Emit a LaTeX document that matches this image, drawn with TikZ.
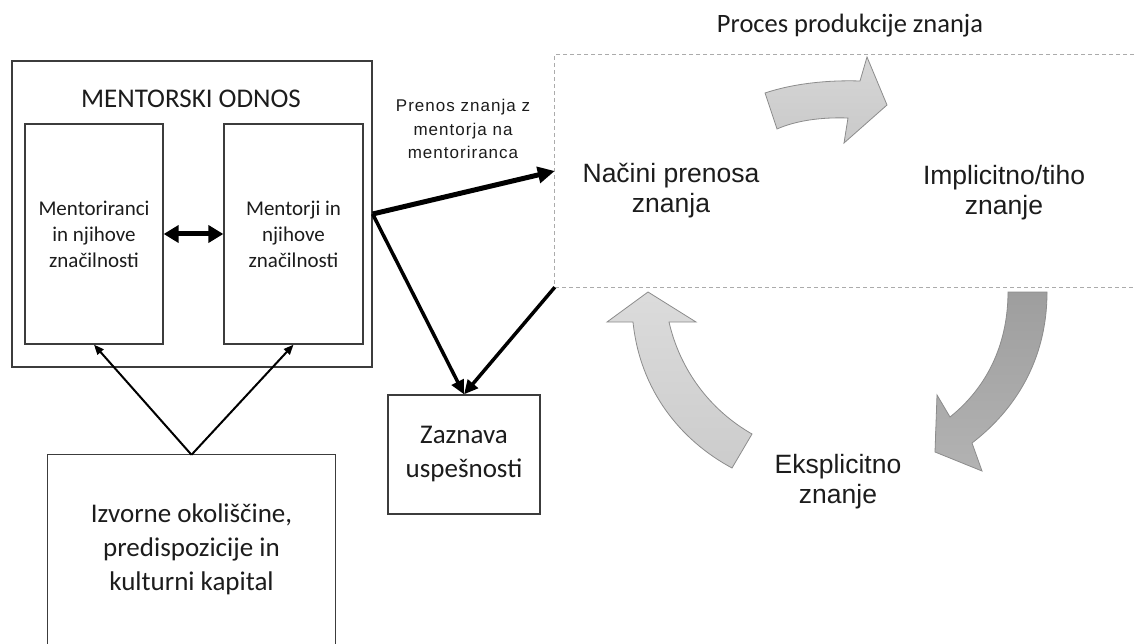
\documentclass[tikz,border=0pt]{standalone}
\usepackage{fontspec}
\setmainfont{Carlito}
\newfontfamily\arialf{Liberation Sans}
\newfontfamily\arialsp[LetterSpace=6]{Liberation Sans}
\usetikzlibrary{arrows.meta}
\definecolor{boxgray}{HTML}{3C3C3C}
\definecolor{txt}{HTML}{1C1C1C}
\definecolor{dashgray}{HTML}{ABABAB}
\definecolor{blkedge}{HTML}{8C8C8C}
\begin{document}
\begin{tikzpicture}[x=1pt,y=-1pt,
  box/.style={draw=boxgray, line width=1.3pt, inner sep=0pt},
  lbl/.style={inner sep=0pt, align=center, text=txt},
  cal27/.style={font=\fontsize{27}{34}\selectfont},
  cal21/.style={font=\fontsize{21}{26}\selectfont},
  ar27/.style={font=\arialf\fontsize{26.5}{30}\selectfont},
  arsmall/.style={font=\arialsp\fontsize{17}{23.5}\selectfont},
  bigarrow/.style={line width=5pt, -{Triangle[length=17pt,width=16pt]}},
  midarrow/.style={line width=3.5pt, -{Triangle[length=14pt,width=13pt]}},
  dblarrow/.style={line width=5pt, {Triangle[length=15pt,width=17pt]}-{Triangle[length=15pt,width=17pt]}},
  thinarrow/.style={line width=2pt, -{Triangle[length=10pt,width=8pt]}},
  blockarrow/.style={draw=blkedge, line width=0.8pt, line join=miter}
]
\useasboundingbox (0,0) rectangle (1134,644);
\fill[white] (0,0) rectangle (1134,644);

% left side boxes
\node[box, minimum width=360pt, minimum height=306pt] (outer) at (192,214) {};
\node[lbl, cal27] (title) at (191,99) {MENTORSKI ODNOS};
\node[box, lbl, cal21, minimum width=138pt, minimum height=220pt] (mentee) at (94,234) {Mentoriranci\\in njihove\\značilnosti};
\node[box, lbl, cal21, minimum width=139pt, minimum height=220pt] (mentor) at (293.5,234) {Mentorji in\\njihove\\značilnosti};

% origin box (cut by the lower edge)
\node[lbl, cal27, minimum width=287pt, minimum height=189pt] (izv) at (191.5,549.5) {Izvorne okoliščine,\\predispozicije in\\kulturni kapital};
\draw[draw=boxgray, line width=1.3pt] (izv.south west) -- (izv.north west) -- (izv.north east) -- (izv.south east);

% success box
\node[box, lbl, cal27, minimum width=152pt, minimum height=119pt] (zaz) at (464,454.5) {Zaznava\\uspešnosti};

% process frame (dashed, open to the right)
\node[minimum width=579pt, minimum height=232pt, inner sep=0pt] (proc) at (844.5,171) {};
\draw[dashgray, line width=0.9pt, dash pattern=on 4pt off 3pt] (proc.north east) -- (proc.north west) -- (proc.south west) -- (proc.south east);
\node[lbl, font=\fontsize{26.5}{30}\selectfont] (ptitle) at (850,26) {Proces produkcije znanja};

% labels in the process
\node[lbl, ar27] (nacini) at (671,191) {Načini prenosa\\znanja};
\node[lbl, ar27] (impl) at (1004,193) {Implicitno/tiho\\znanje};
\node[lbl, ar27] (eksp) at (838,482) {Eksplicitno\\znanje};
\node[lbl, arsmall] (prenos) at (463,129) {Prenos znanja z\\mentorja na\\mentoriranca};

% connectors
\draw[dblarrow] (mentee.east) -- (mentor.west);
\draw[thinarrow] (izv.north) -- (mentee.south);
\draw[thinarrow] (izv.north) -- (mentor.south);
\draw[bigarrow] (outer.east) -- (proc.west);
\draw[midarrow] (outer.east) -- (zaz.north);
\draw[midarrow] (proc.south west) -- (zaz.north);

% curved block arrows of the cycle
\shade[top color=white!84!black, bottom color=white!79!black] (765,93) .. controls (795,83) and (830,80) .. (860,81) -- (867,57) -- (887,105) -- (844,143) -- (848,118) .. controls (820,117) and (795,121) .. (777,129) -- cycle;
\draw[blockarrow] (765,93) .. controls (795,83) and (830,80) .. (860,81) -- (867,57) -- (887,105) -- (844,143) -- (848,118) .. controls (820,117) and (795,121) .. (777,129) -- cycle;

\shade[top color=white!62!black, bottom color=white!70!black] (1008,292) -- (1047,292) .. controls (1047,360) and (1015,410) .. (972,443) -- (982,471) -- (935,452) -- (937,395) -- (950,417) .. controls (990,385) and (1008,340) .. (1008,292) -- cycle;
\draw[blockarrow] (1008,292) -- (1047,292) .. controls (1047,360) and (1015,410) .. (972,443) -- (982,471) -- (935,452) -- (937,395) -- (950,417) .. controls (990,385) and (1008,340) .. (1008,292) -- cycle;

\shade[top color=white!86!black, bottom color=white!80!black] (648,292) -- (696,322) -- (669,322) .. controls (680,370) and (710,410) .. (752,434) -- (732,468) .. controls (680,440) and (640,390) .. (633,322) -- (607,322) -- cycle;
\draw[blockarrow] (648,292) -- (696,322) -- (669,322) .. controls (680,370) and (710,410) .. (752,434) -- (732,468) .. controls (680,440) and (640,390) .. (633,322) -- (607,322) -- cycle;
\end{tikzpicture}
\end{document}
